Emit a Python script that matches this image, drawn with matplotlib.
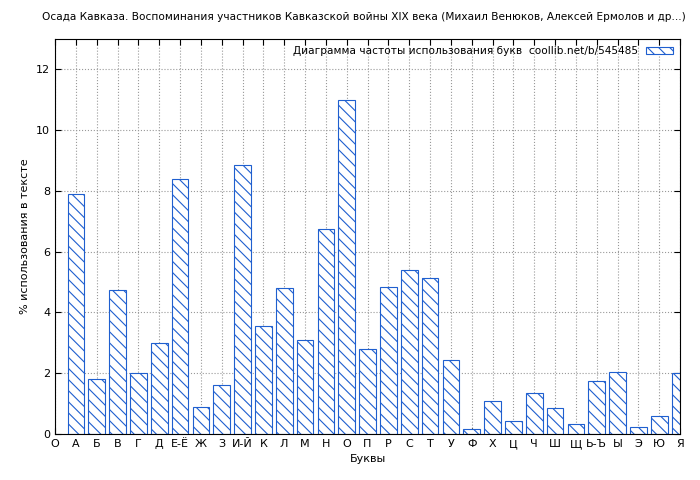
import matplotlib
matplotlib.use("Agg")
import matplotlib.pyplot as plt
import numpy as np

plt.rcParams["font.size"] = 8
plt.rcParams["hatch.color"] = "#1f5fcf"
plt.rcParams["hatch.linewidth"] = 0.8

tick_labels = ["О", "А", "Б", "В", "Г", "Д", "Е-Ё", "Ж", "З", "И-Й", "К", "Л", "М", "Н", "О",
               "П", "Р", "С", "Т", "У", "Ф", "Х", "Ц", "Ч", "Ш", "Щ", "Ь-Ъ", "Ы", "Э", "Ю", "Я"]
values = [7.9, 1.8, 4.75, 2.0, 3.0, 8.4, 0.9, 1.6, 8.85, 3.55, 4.8, 3.1, 6.75, 11.0, 2.8,
          4.85, 5.4, 5.15, 2.45, 0.15, 1.07, 0.42, 1.35, 0.85, 0.32, 1.75, 2.05, 0.22, 0.6, 2.0]

fig = plt.figure(figsize=(7, 4.8), dpi=100)
ax = fig.add_axes([55 / 700, 46 / 480, 625 / 700, 395 / 480])

xs = np.arange(1, len(values) + 1)
ax.bar(xs, values, 0.8, facecolor="white", edgecolor="#1f5fcf", hatch="\\\\\\",
       linewidth=0.8, label="Диаграмма частоты использования букв  coollib.net/b/545485", zorder=2)

ax.set_xlim(0, 30)
ax.set_ylim(0, 13)
ax.set_xticks(range(len(tick_labels)))
ax.set_xticklabels(tick_labels)
ax.set_yticks(range(0, 13, 2))
ax.grid(True, ls=":", color="#999999", lw=0.8)
ax.set_axisbelow(True)
ax.tick_params(direction="in", length=4, top=True, right=True)
ax.set_xlabel("Буквы")
ax.set_ylabel("% использования в тексте")
fig.text(0.52, 0.965, "Осада Кавказа. Воспоминания участников Кавказской войны XIX века (Михаил Венюков, Алексей Ермолов и др...)",
         fontsize=7.6, ha="center", va="center")
ax.legend(loc="upper right", frameon=False, markerfirst=False, handlelength=2.5,
          fontsize=7.6, borderaxespad=0.3)

fig.savefig("out.png", dpi=100)
